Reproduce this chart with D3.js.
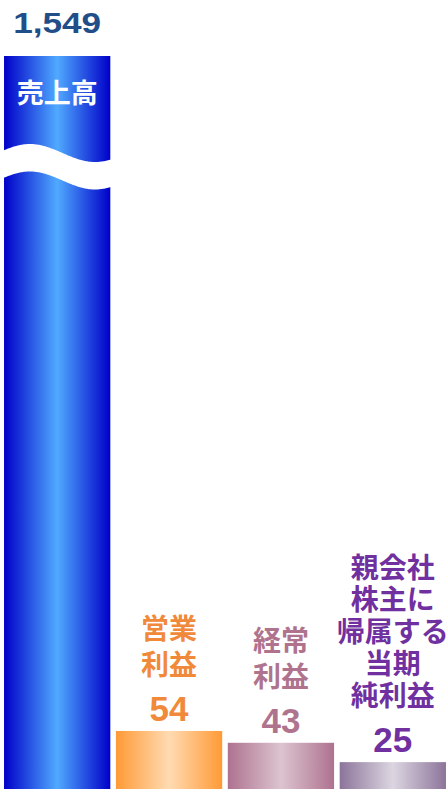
<!DOCTYPE html>
<html lang="ja">
<head>
<meta charset="utf-8">
<script src="https://cdn.jsdelivr.net/npm/d3@7/dist/d3.min.js"></script>
<style>
  html, body { margin: 0; padding: 0; background: #fff; }
  svg { display: block; }
</style>
</head>
<body>
<svg id="chart" width="448" height="789"></svg>
<script>
// Results summary (units as reported)
const categories = ["売上高", "営業利益", "経常利益", "親会社株主に帰属する当期純利益"];
const values = [1549, 54, 43, 25];
const valueLabels = ["1,549", "54", "43", "25"];
const nameLines = [
  ["売上高"],
  ["営業", "利益"],
  ["経常", "利益"],
  ["親会社", "株主に", "帰属する", "当期", "純利益"]
];

// Palette: [edge, centre] of each bar's gradient, and the label colour
const barEdge   = ["#0000c8", "#ff9a36", "#ae7290", "#8c749a"];
const barCentre = ["#50aaff", "#ffdbb2", "#dcc4cf", "#dcd6e1"];
const textColor = ["#1f4e88", "#f08a3a", "#b0738e", "#7030a0"];

const W = 448, H = 789;
const svg = d3.select("#chart");

const x = d3.scaleBand()
  .domain(categories)
  .range([0, 450])
  .paddingInner(0.05)
  .paddingOuter(0.036);

// The scale is sized for the smaller results; the sales bar is clamped
// at the top of the plot and shown with an axis break.
const y = d3.scaleLinear()
  .domain([0, 682])
  .range([H, 56])
  .clamp(true);

const defs = svg.append("defs");
categories.forEach((c, i) => {
  const g = defs.append("linearGradient")
    .attr("id", "grad" + i)
    .attr("x1", "0%").attr("x2", "100%")
    .attr("y1", "0%").attr("y2", "0%");
  g.append("stop").attr("offset", "0%").attr("stop-color", barEdge[i]);
  g.append("stop").attr("offset", "50%").attr("stop-color", barCentre[i]);
  g.append("stop").attr("offset", "100%").attr("stop-color", barEdge[i]);
});

const data = categories.map((c, i) => ({ c, i, v: values[i] }));

// Bars
svg.selectAll("rect.bar")
  .data(data)
  .join("rect")
  .attr("class", "bar")
  .attr("x", d => x(d.c))
  .attr("y", d => y(d.v))
  .attr("width", x.bandwidth())
  .attr("height", d => H - y(d.v))
  .attr("fill", d => `url(#grad${d.i})`);

// Wavy break across the clamped sales bar
const big = data[0];
const bx0 = x(big.c) - 1, bx1 = x(big.c) + x.bandwidth() + 1;
const waveTop = xx => 153 - 9 * Math.cos((xx - 30) / 65 * Math.PI);
const thick = 27.5;
const xs = d3.range(bx0, bx1 + 0.5, 1);
const topPts = xs.map(xx => [xx, waveTop(xx)]);
const botPts = xs.slice().reverse().map(xx => [xx, waveTop(xx) + thick]);
svg.append("path")
  .attr("d", d3.line()([...topPts, ...botPts]) + "Z")
  .attr("fill", "#fff");

const numFont = "'Liberation Sans', Arial, sans-serif";
const jpFont = "'Noto Sans CJK JP', 'Noto Sans', sans-serif";

// Sales: value above the bar, name inside it
svg.append("text")
  .attr("x", x(big.c) + x.bandwidth() / 2)
  .attr("y", 33)
  .attr("text-anchor", "middle")
  .attr("font-family", numFont)
  .attr("font-weight", "bold")
  .attr("font-size", 29)
  .attr("textLength", 88)
  .attr("lengthAdjust", "spacingAndGlyphs")
  .attr("fill", textColor[0])
  .text(valueLabels[0]);

svg.append("text")
  .attr("x", x(big.c) + x.bandwidth() / 2)
  .attr("y", 91)
  .attr("text-anchor", "middle")
  .attr("dominant-baseline", "central")
  .attr("font-family", jpFont)
  .attr("font-weight", "bold")
  .attr("font-size", 27)
  .attr("fill", "#fff")
  .text(nameLines[0][0]);

// Other results: value above bar, name stacked above the value
data.slice(1).forEach(d => {
  const cx = x(d.c) + x.bandwidth() / 2;
  const base = y(d.v) - 10;
  svg.append("text")
    .attr("x", cx)
    .attr("y", base)
    .attr("text-anchor", "middle")
    .attr("font-family", numFont)
    .attr("font-weight", "bold")
    .attr("font-size", 35)
    .attr("fill", textColor[d.i])
    .text(valueLabels[d.i]);

  const lines = nameLines[d.i];
  const lh = lines.length > 2 ? 32 : 35.5;
  const lastCenter = base - 58;
  svg.append("g")
    .selectAll("text")
    .data(lines)
    .join("text")
    .attr("x", cx)
    .attr("y", (t, k) => lastCenter - (lines.length - 1 - k) * lh)
    .attr("text-anchor", "middle")
    .attr("dominant-baseline", "central")
    .attr("font-family", jpFont)
    .attr("font-weight", "bold")
    .attr("font-size", 28)
    .attr("fill", textColor[d.i])
    .text(t => t);
});
</script>
</body>
</html>
